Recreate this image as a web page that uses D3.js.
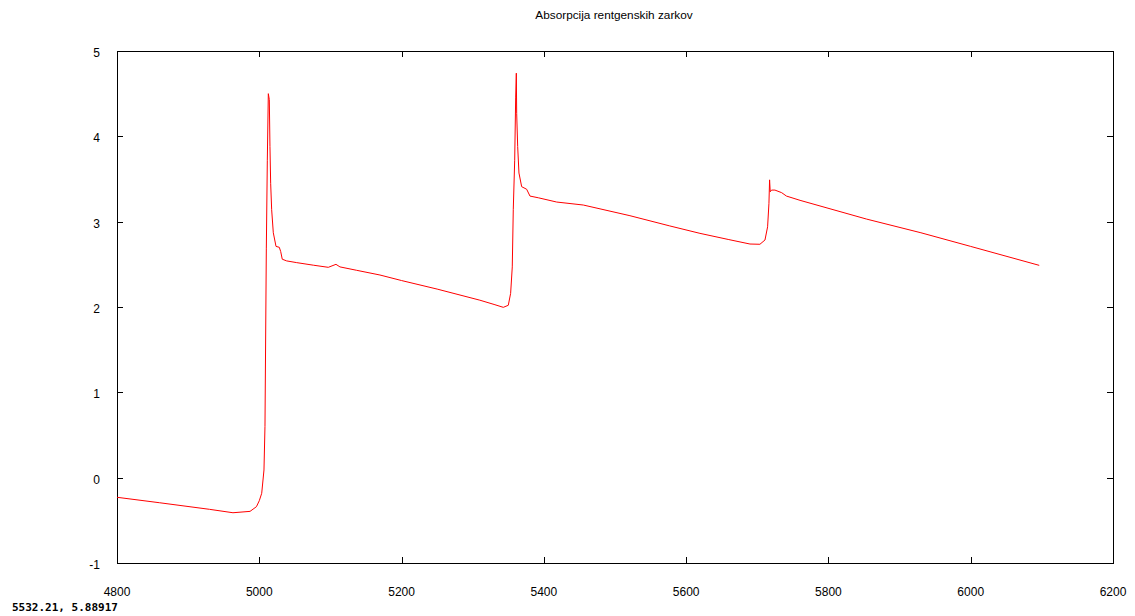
<!DOCTYPE html>
<html>
<head>
<meta charset="utf-8">
<script src="https://cdn.jsdelivr.net/npm/d3@7"></script>
<style>
body{margin:0;background:#fff;}
</style>
</head>
<body>
<div id="graph"></div>
<script>
// energija (eV) in absorpcija, odcitano s slike
var energy = [4800,4860,4930,4963,4987,4996,5000,5003.4,5006.6,5008,5009.9,5011.3,5012.7,5014.1,5015,5016,5017.4,5019.7,5023.5,5028.1,5030.1,5032.3,5038.5,5052.6,5075.9,5097,5107.8,5113.4,5136.9,5169.6,5200,5250,5310,5330,5343,5350,5353.3,5355.6,5357,5359,5360.4,5361.3,5361.8,5363.2,5365,5368.8,5375.8,5380.5,5392.2,5418,5455.4,5521,5577,5619.4,5660,5689.7,5703.7,5710.8,5714.5,5716.4,5717.3,5718.2,5720,5724.8,5734.2,5741,5760.1,5853.7,5930,6000,6096.3];
var absorb = [-0.23,-0.294,-0.371,-0.411,-0.395,-0.34,-0.27,-0.183,0.09,0.6,2.69,3.72,4.50,4.43,3.88,3.45,3.14,2.87,2.71,2.70,2.65,2.56,2.54,2.52,2.49,2.465,2.50,2.47,2.43,2.375,2.31,2.21,2.08,2.03,1.996,2.02,2.16,2.47,3.14,3.72,4.46,4.74,4.27,3.88,3.57,3.41,3.38,3.30,3.28,3.23,3.195,3.07,2.95,2.863,2.79,2.738,2.735,2.785,2.94,3.215,3.49,3.35,3.37,3.37,3.34,3.30,3.25,3.03,2.87,2.71,2.488];

var xTicks = [4800,5000,5200,5400,5600,5800,6000,6200];
var yTicks = [-1,0,1,2,3,4,5];

var W = 1135, H = 616;
var mL = 117, mR = 1113, mT = 51, mB = 563;
var sans = "'Liberation Sans',Arial,sans-serif";

var svg = d3.select("#graph").append("svg").attr("width",W).attr("height",H);

var x = d3.scaleLinear().domain([4800,6200]).range([mL,mR]);
var y = d3.scaleLinear().domain([-1,5]).range([mB,mT]);

// naslov
svg.append("text").attr("x",614).attr("y",19).attr("text-anchor","middle")
  .style("font-family",sans).style("font-size","11.8px").attr("fill","#000")
  .text("Absorpcija rentgenskih zarkov");

// okvir
svg.append("rect").attr("x",mL+0.5).attr("y",mT+0.5)
  .attr("width",mR-mL).attr("height",mB-mT)
  .attr("fill","none").attr("stroke","#000").attr("stroke-width",1);

// ticki navznoter na vseh stirih straneh
var tl = 6;
xTicks.forEach(function(t){
  var px = Math.round(x(t))+0.5;
  svg.append("line").attr("x1",px).attr("x2",px).attr("y1",mB).attr("y2",mB-tl).attr("stroke","#000");
  svg.append("line").attr("x1",px).attr("x2",px).attr("y1",mT).attr("y2",mT+tl).attr("stroke","#000");
  svg.append("text").attr("x",x(t)).attr("y",596).attr("text-anchor","middle")
    .style("font-family",sans).style("font-size","12px").attr("fill","#000").text(t);
});
yTicks.forEach(function(t){
  var py = Math.round(y(t))+0.5;
  svg.append("line").attr("x1",mL).attr("x2",mL+tl).attr("y1",py).attr("y2",py).attr("stroke","#000");
  svg.append("line").attr("x1",mR).attr("x2",mR-tl).attr("y1",py).attr("y2",py).attr("stroke","#000");
  svg.append("text").attr("x",100).attr("y",y(t)+6).attr("text-anchor","end")
    .style("font-family",sans).style("font-size","12px").attr("fill","#000").text(t);
});

// krivulja
var pts = energy.map(function(e,i){ return [e, absorb[i]]; });
var line = d3.line().x(function(d){return x(d[0]);}).y(function(d){return y(d[1]);});
svg.append("path").datum(pts).attr("d",line)
  .attr("fill","none").attr("stroke","#ff0000").attr("stroke-width",1);

// koordinate miske spodaj levo
svg.append("text").attr("x",12).attr("y",611)
  .style("font-family","'DejaVu Sans Mono',monospace").style("font-size","11px")
  .style("font-weight","bold").attr("fill","#000").text("5532.21, 5.88917");
</script>
</body>
</html>
